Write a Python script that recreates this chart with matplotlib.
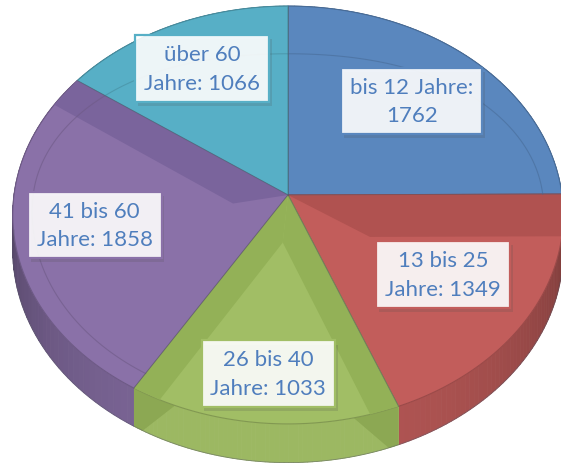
import textwrap
import numpy as np
import matplotlib.pyplot as plt
import matplotlib.patheffects as pe
from matplotlib.colors import to_rgb
from matplotlib.collections import PolyCollection
from matplotlib.patches import Polygon

categories = ["bis 12 Jahre", "13 bis 25 Jahre", "26 bis 40 Jahre",
              "41 bis 60 Jahre", "über 60 Jahre"]
values = [1762, 1349, 1033, 1858, 1066]
colors = ["#5A87BE", "#C25D5B", "#A1BE65", "#8A71A8", "#57AFC6"]
band_colors = ["#5A87BE", "#B05250", "#93B157", "#7A649C", "#57AFC6"]
text_color = "#4F7EBD"

# tilted disk -> pixel projection (simple perspective)
CX, CY = 288, 196
A, B, K = 274, 207, 0.0957
H = 35


def proj(u, v, z=0.0):
    d = 1 + K * v
    return CX + A * u / d, CY - B * v / d + z * H / d


def arc(a0, a1, r=1.0, z=0.0, n=80):
    t = np.radians(np.linspace(a0, a1, n))
    x, y = proj(r * np.cos(t), r * np.sin(t), z)
    return np.column_stack([x, y])


def shade(c, f):
    return tuple(min(1, ch * f) for ch in to_rgb(c))


frac = np.array(values) / sum(values)
edges = 90 - 360 * np.concatenate([[0], np.cumsum(frac)])

fig = plt.figure(figsize=(5.61, 4.64), dpi=100)
ax = fig.add_axes([0, 0, 1, 1])
ax.set_xlim(0, 561)
ax.set_ylim(464, 0)
ax.axis('off')

# outer walls
quads, qcols = [], []
for i in range(len(values)):
    t = np.linspace(edges[i], edges[i + 1], 60)
    top = arc(edges[i], edges[i + 1], n=60)
    bot = arc(edges[i], edges[i + 1], z=1, n=60)
    for j in range(len(t) - 1):
        quads.append([top[j], top[j + 1], bot[j + 1], bot[j]])
        s = -np.sin(np.radians(0.5 * (t[j] + t[j + 1])))
        f = 0.6 + 0.32 * max(s, 0)
        if i == 2:
            f = 0.97
        qcols.append(shade(colors[i], f))
ax.add_collection(PolyCollection(quads, facecolors=qcols, edgecolors=qcols, linewidths=0.6))

# darker bevel ends on the green front wall
g0, g1 = edges[2], edges[3]
for a, sgn in [(g0, -1), (g1, 1)]:
    pts = np.vstack([arc(a, a + sgn * 9, n=20),
                     arc(a + sgn * 2, a, z=1, n=10)])
    ax.add_patch(Polygon(pts, closed=True, fc=shade(band_colors[2], 0.95), ec='none'))

ax.plot(*arc(-180, 0, z=1, n=200).T, color='#555566', lw=0.6, alpha=0.5)

# top faces
for i in range(len(values)):
    pts = np.vstack([[proj(0, 0)], arc(edges[i], edges[i + 1])])
    ax.add_patch(Polygon(pts, closed=True, fc=colors[i], ec=shade(colors[i], 0.8), lw=0.8))


# bevel bands along radial edges: (wedge, which edge, width)
def band(i, side, w):
    a0, a1 = edges[i], edges[i + 1]
    al = a0 if side == 0 else a1
    e = np.array([np.cos(np.radians(al)), np.sin(np.radians(al))])
    mid = np.radians(0.5 * (a0 + a1))
    m = np.array([np.cos(mid), np.sin(mid)])
    n = m - e * np.dot(m, e)
    n /= np.linalg.norm(n)
    half = np.radians(abs(a0 - a1) / 2)
    apex = m * w / np.sin(half)
    far = e * np.sqrt(1 - w * w) + n * w
    pp = [(0, 0), tuple(e), tuple(far), tuple(apex)]
    return np.array([proj(p[0], p[1]) for p in pp])


for i, side, w in [(1, 0, 0.2), (3, 1, 0.15), (2, 0, 0.1), (2, 1, 0.1)]:
    ax.add_patch(Polygon(band(i, side, w), closed=True, fc=band_colors[i], ec='none'))

# faint inner bevel arcs
for i in [0, 3, 4]:
    t = np.linspace(edges[i], edges[i + 1], 80)
    r = 0.93 - 0.2 * np.clip(np.sin(np.radians(t)), 0, None) ** 2
    x, y = proj(r * np.cos(np.radians(t)), r * np.sin(np.radians(t)))
    ax.plot(x, y, color=shade(colors[i], 0.8), lw=0.8, alpha=0.6)

# radial edges on top
for a in edges[:-1]:
    x1, y1 = proj(np.cos(np.radians(a)), np.sin(np.radians(a)))
    ax.plot([CX, x1], [CY, y1], color='#555566', lw=0.6, alpha=0.5)

# data labels
label_r = [0.67, 0.66, 0.8, 0.71, 0.73]
for i, (cat, val) in enumerate(zip(categories, values)):
    mid = np.radians(0.5 * (edges[i] + edges[i + 1]))
    lx, ly = proj(label_r[i] * np.cos(mid), label_r[i] * np.sin(mid))
    txt = "\n".join(textwrap.wrap(f"{cat}: {val}", 13))
    t = ax.text(lx, ly, txt, color=text_color, ha='center', va='center',
                fontsize=16, family='Lato', linespacing=1.55, multialignment='center',
                bbox=dict(boxstyle='square,pad=0.4', fc=(1, 1, 1, 0.9),
                          ec=colors[i], lw=1.6))
    t.get_bbox_patch().set_path_effects(
        [pe.SimplePatchShadow(offset=(2, -3), alpha=0.18), pe.Normal()])

fig.savefig('out.png', dpi=100)
